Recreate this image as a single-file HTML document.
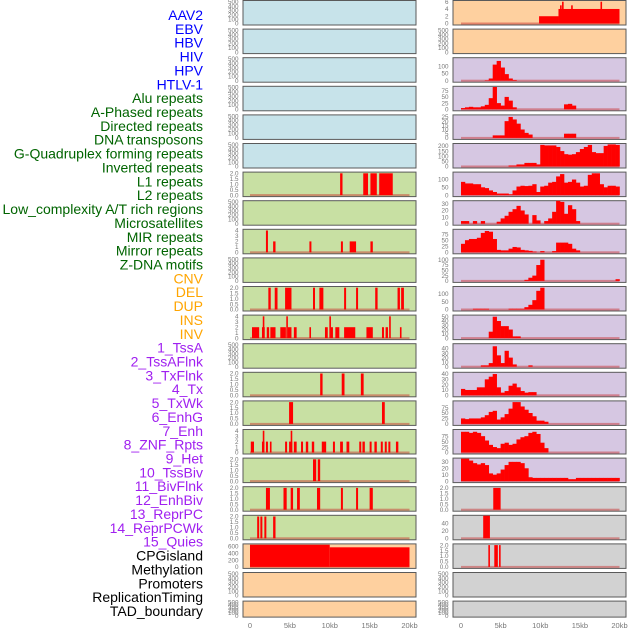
<!DOCTYPE html>
<html><head><meta charset="utf-8"><style>
html,body{margin:0;padding:0;background:#fff;}
svg{display:block;font-family:"Liberation Sans",sans-serif;}
</style></head><body>
<svg id="chart" width="630" height="630" viewBox="0 0 630 630"></svg>
<script>
const labelTexts = ["AAV2","EBV","HBV","HIV","HPV","HTLV-1","Alu repeats","A-Phased repeats","Directed repeats","DNA transposons","G-Quadruplex forming repeats","Inverted repeats","L1 repeats","L2 repeats","Low_complexity A/T rich regions","Microsatellites","MIR repeats","Mirror repeats","Z-DNA motifs","CNV","DEL","DUP","INS","INV","1_TssA","2_TssAFlnk","3_TxFlnk","4_Tx","5_TxWk","6_EnhG","7_Enh","8_ZNF_Rpts","9_Het","10_TssBiv","11_BivFlnk","12_EnhBiv","13_ReprPC","14_ReprPCWk","15_Quies","CPGisland","Methylation","Promoters","ReplicationTiming","TAD_boundary"];
const labelColors = ["#0000ff","#0000ff","#0000ff","#0000ff","#0000ff","#0000ff","#006400","#006400","#006400","#006400","#006400","#006400","#006400","#006400","#006400","#006400","#006400","#006400","#006400","#ffa500","#ffa500","#ffa500","#ffa500","#ffa500","#a020f0","#a020f0","#a020f0","#a020f0","#a020f0","#a020f0","#a020f0","#a020f0","#a020f0","#a020f0","#a020f0","#a020f0","#a020f0","#a020f0","#a020f0","#000","#000","#000","#000","#000"];
const xTickValues = [0,5,10,15,20];
const xTickLabels = ["0","5kb","10kb","15kb","20kb"];
const leftFills = ["blue","blue","blue","blue","blue","blue","green","green","green","green","green","green","green","green","green","green","green","green","green","orange","orange","orange"];
const rightFills = ["orange","orange","purple","purple","purple","purple","purple","purple","purple","purple","purple","purple","purple","purple","purple","purple","purple","gray","gray","gray","gray","gray"];
const ticksEmpty = [0,100,200,300,400,500];
const ticks2 = [0,0.5,1,1.5,2];
const ticks4 = [0,1,2,3,4];
const leftL1 = [[11.3,11.6,2],[14.2,14.8,2],[15.1,15.9,2],[16.2,17.9,2]];
const leftMIR = [[2.0,2.25,4],[2.9,3.2,2],[7.45,7.7,2],[11.4,11.65,2],[12.5,13.3,2],[15.1,15.4,2]];
const leftDEL = [[2.3,2.6,2],[3.1,3.45,2],[4.4,5.2,2],[7.9,8.15,2],[8.7,9.2,2],[11.8,12.05,2],[13.3,13.55,2],[15.7,16.0,2],[18.5,18.8,2],[18.95,19.3,2]];
const leftINV = [[0.25,1.15,2],[1.5,1.85,2],[1.6,1.75,4],[2.1,2.4,2],[2.55,3.2,2],[3.8,4.5,2],[4.55,4.75,4],[4.75,5.2,2],[5.5,5.85,2],[7.45,7.65,2],[9.4,9.75,2],[9.95,10.15,4],[10.15,10.4,2],[10.7,11.2,2],[11.8,13.2,2],[14.6,15.4,2],[16.55,16.8,2],[17.0,17.3,2],[17.45,17.65,4],[18.8,19.0,2]];
const leftRow13 = [[8.8,9.1,2],[11.5,11.85,2],[13.9,14.25,2]];
const leftRow14 = [[4.9,5.4,2],[16.55,16.9,2]];
const leftRow15 = [[0.1,0.5,2],[1.5,1.8,2],[1.6,1.75,4],[2.0,2.25,2],[2.5,2.7,2],[4.4,4.65,2],[4.9,5.3,2],[5.1,5.3,4],[5.5,5.85,2],[6.4,6.65,2],[7.0,7.3,2],[7.75,8.05,2],[9.0,9.55,2],[10.4,10.65,2],[11.3,11.65,2],[12.1,12.45,2],[13.7,13.95,2],[14.1,14.4,2],[15.0,15.25,2],[15.6,15.9,2],[16.4,16.65,2],[16.9,17.15,2],[17.35,17.6,2],[18.3,18.6,2]];
const leftRow16 = [[7.9,8.3,2],[8.5,8.8,2]];
const leftRow17 = [[2.0,2.5,2],[4.2,4.6,2],[5.1,5.4,2],[5.9,6.25,2],[8.4,8.8,2],[11.4,11.65,2],[13.3,13.55,2],[15.0,15.4,2]];
const leftRow18 = [[0.9,1.15,2],[1.3,1.55,2],[1.8,2.05,2],[2.9,3.2,2]];
const leftCPG = [[0,10,650],[10,20,575]];
const rBinsHIV = [0,0,0,0,0,0,3,15,110,135,90,45,15,5,0,0,0,0,0,0,0,0,0,0,0,0,0,0,0,0,0,0,0,0,0,0,0,0,0,0];
const rBinsAlu = [5,8,10,8,8,12,18,45,90,25,15,50,35,8,0,0,0,0,0,0,0,0,0,0,0,0,20,22,15,0,0,0,0,0,0,0,0,0,0,0];
const rBinsAPhased = [0,0,0,0,0,0,0,0,3,3,3,20,25,22,17,10,6,4,0,0,0,0,0,0,0,0,5,5,5,0,0,0,0,0,0,0,0,0,0,0];
const rBinsGQuad = [0,0,0,0,0,0,0,0,0,0,0,0,10,10,20,20,35,35,35,20,210,205,205,205,190,150,120,115,120,140,170,190,210,140,130,130,200,215,215,210];
const rBinsL1 = [85,75,75,70,70,50,45,30,20,10,10,10,5,30,55,60,58,60,70,20,55,60,80,85,120,135,80,85,100,80,55,60,130,140,140,70,50,60,60,55];
const rBinsL2 = [4,4,0,4,0,4,0,0,0,3,8,12,18,22,27,20,14,0,13,5,0,4,8,18,35,33,15,28,22,4,0,0,0,0,0,0,0,0,0,0];
const rBinsLowComp = [35,50,55,55,60,80,88,85,55,10,8,8,15,22,20,10,8,6,3,0,5,0,0,5,40,40,40,35,15,8,0,0,0,0,0,0,0,0,0,0];
const rBinsMicro = [0,0,0,0,0,0,0,0,0,0,0,0,0,0,0,0,5,15,25,75,100,0,0,0,0,0,0,0,0,0,0,0,0,0,0,0,0,0,0,8];
const rBinsMIR = [0,0,0,5,5,5,5,0,0,0,0,0,5,5,5,5,15,30,60,120,140,0,0,0,0,0,0,0,0,0,0,0,0,0,0,0,0,0,0,0];
const rBinsRow11 = [0,0,0,0,0,0,0,15,50,40,28,28,20,4,4,0,0,0,0,0,0,0,0,0,0,0,0,0,0,0,0,0,0,0,0,0,0,0,0,0];
const rBinsRow12 = [0,0,0,0,0,3,3,8,45,25,8,35,20,5,0,0,0,3,0,0,0,0,0,0,0,0,0,0,0,0,0,0,0,0,0,0,0,0,0,0];
const rBinsRow13 = [12,10,10,10,15,15,30,35,40,15,5,8,18,22,15,8,5,6,6,0,0,0,0,0,0,0,0,0,0,0,0,0,0,0,0,0,0,0,0,0];
const rBinsRow14 = [25,22,25,25,25,30,40,55,60,20,30,45,70,100,100,80,65,50,35,15,15,10,0,0,0,0,0,0,0,0,0,0,0,0,0,0,0,0,0,0];
const rBinsRow15 = [95,95,90,95,90,75,55,35,25,20,40,45,35,40,60,70,75,90,95,85,45,20,0,0,0,0,0,0,0,0,0,0,0,0,0,0,0,0,0,0];
const rBinsRow16 = [35,35,32,28,26,28,25,12,10,12,18,25,30,30,30,28,20,6,5,5,5,5,5,5,5,5,5,3,3,5,5,5,5,5,5,5,5,5,5,5];
const rSegsAAV2 = [[9.85,12.3,2],[12.3,20,4],[12.5,12.6,5],[12.75,12.88,6],[13.9,14.02,5],[17.6,17.72,6]];
const rSegsRow17 = [[4.07,5.0,2]];
const rSegsRow18 = [[2.8,3.65,60]];
const rSegsRow19 = [[3.45,3.65,2],[4.2,4.65,2],[4.8,5.0,2]];

const leftPanels = [
 {max:500,ticks:ticksEmpty},{max:500,ticks:ticksEmpty},{max:500,ticks:ticksEmpty},{max:500,ticks:ticksEmpty},{max:500,ticks:ticksEmpty},{max:500,ticks:ticksEmpty},
 {max:2,ticks:ticks2,segs:leftL1,dec:1},{max:500,ticks:ticksEmpty},{max:4,ticks:ticks4,segs:leftMIR},{max:500,ticks:ticksEmpty},
 {max:2,ticks:ticks2,segs:leftDEL,dec:1},{max:4,ticks:ticks4,segs:leftINV},{max:500,ticks:ticksEmpty},
 {max:2,ticks:ticks2,segs:leftRow13,dec:1},{max:2,ticks:ticks2,segs:leftRow14,dec:1},{max:4,ticks:ticks4,segs:leftRow15},
 {max:2,ticks:ticks2,segs:leftRow16,dec:1},{max:2,ticks:ticks2,segs:leftRow17,dec:1},{max:2,ticks:ticks2,segs:leftRow18,dec:1},
 {max:640,ticks:[0,200,400,600],segs:leftCPG},{max:500,ticks:ticksEmpty},{max:500,ticks:ticksEmpty}];
const rightPanels = [
 {max:6,ticks:[0,2,4,6],segs:rSegsAAV2},{max:500,ticks:ticksEmpty},
 {max:149,ticks:[0,50,100],bins:rBinsHIV},{max:88,ticks:[0,25,50,75],bins:rBinsAlu},
 {max:26,ticks:[0,5,10,15,20,25],bins:rBinsAPhased},{max:212,ticks:[0,50,100,150,200],bins:rBinsGQuad},
 {max:140,ticks:[0,50,100],bins:rBinsL1},{max:33,ticks:[0,10,20,30],bins:rBinsL2},
 {max:90,ticks:[0,25,50,75],bins:rBinsLowComp},{max:103,ticks:[0,25,50,75,100],bins:rBinsMicro},
 {max:140,ticks:[0,50,100],bins:rBinsMIR},{max:51,ticks:[0,10,20,30,40,50],bins:rBinsRow11},
 {max:48,ticks:[0,10,20,30,40],bins:rBinsRow12},{max:41,ticks:[0,10,20,30,40],bins:rBinsRow13},
 {max:100,ticks:[0,25,50,75],bins:rBinsRow14},{max:100,ticks:[0,25,50,75],bins:rBinsRow15},
 {max:34,ticks:[0,10,20,30],bins:rBinsRow16},{max:2,ticks:ticks2,segs:rSegsRow17,dec:1},
 {max:58,ticks:[0,20,40],segs:rSegsRow18},{max:2,ticks:ticks2,segs:rSegsRow19,dec:1},
 {max:500,ticks:ticksEmpty},{max:500,ticks:ticksEmpty}];

const fillColors = {blue:"#c7e3ea",orange:"#fed09f",purple:"#d6c7e2",green:"#c8e0a3",gray:"#d2d2d2"};
const NS = "http://www.w3.org/2000/svg";
const svg = document.getElementById("chart");
function mk(tag, attrs, parent){const e=document.createElementNS(NS,tag);for(const k in attrs)e.setAttribute(k,attrs[k]);(parent||svg).appendChild(e);return e;}

labelTexts.forEach((t,i)=>{
  const e = mk("text",{x:203,y:20+i*13.86,"text-anchor":"end","font-size":"14",fill:labelColors[i]});
  
  
  e.textContent = t;
});

function drawColumn(panels, fills, left, right, x0, x1, tickX, col){
  const xs = kb => x0 + (kb/20)*(x1-x0);
  panels.forEach((p,i)=>{
    const top = 0.5 + i*28.6;
    const h = i===21 ? 16 : 24.5;
    const g = mk("g",{});
    
    
    const bg = mk("rect",{x:left,y:top,width:right-left,height:h,fill:fillColors[fills[i]],stroke:"#5a5a5a","stroke-width":"1"},g);
    
    
    const y0 = top + h - 1.5, yTop = top + 1.2;
    const ys = v => y0 - (v/p.max)*(y0-yTop);
    p.ticks.forEach(tv=>{
      const tl = mk("text",{x:tickX,y:ys(tv)+2.2,"text-anchor":"end","font-size":"6.3",fill:"#777"},g);
      
      
      tl.textContent = p.dec ? tv.toFixed(1) : String(tv);
    });
    const clipId = col+"clip"+i;
    const cp = mk("clipPath",{id:clipId},g);
    mk("rect",{x:left,y:top,width:right-left,height:h},cp);
    const mg = mk("g",{"clip-path":"url(#"+clipId+")"},g);
    if(p.segs || p.bins){
      const base = mk("rect",{x:xs(0),y:y0-1,width:xs(20)-xs(0),height:2,fill:"rgba(200,40,40,0.45)"},mg);
      
      
    }
    if(p.segs){
      p.segs.forEach(s=>{
        const r = mk("rect",{x:xs(s[0]),y:ys(s[2]),width:Math.max(1.6,xs(s[1])-xs(s[0])),height:y0-ys(s[2]),fill:"#ff0000"},mg);
        
        
      });
    }
    if(p.bins){
      p.bins.forEach((v,k)=>{
        if(v<=0) return;
        const r = mk("rect",{x:xs(k*0.5),y:ys(v),width:xs((k+1)*0.5)-xs(k*0.5)+0.3,height:y0-ys(v),fill:"#ff0000"},mg);
        
        
      });
    }
  });
  xTickValues.forEach((v,k)=>{
    const t = mk("text",{x:xs(v),y:628,"text-anchor":"middle","font-size":"7.5",fill:"#777"});
    
    
    t.textContent = xTickLabels[k];
  });
}
drawColumn(leftPanels, leftFills, 243, 416, 250, 409.5, 238.5, "left");
drawColumn(rightPanels, rightFills, 453, 626, 461, 619.5, 448.5, "right");
</script>
</body></html>
